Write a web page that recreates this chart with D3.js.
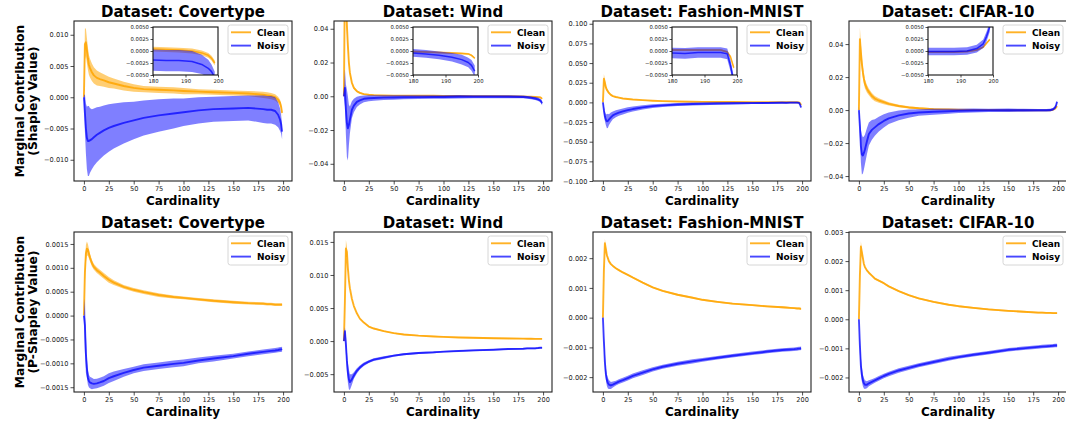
<!DOCTYPE html>
<html>
<head>
<meta charset="utf-8">
<script src="https://cdn.jsdelivr.net/npm/d3@7"></script>
<style>
  html, body { margin: 0; padding: 0; background: #fff; }
  svg { display: block; }
  text { font-family: "DejaVu Sans", sans-serif; }
</style>
</head>
<body>
<div id="chart"></div>
<script>
// ---------------- DATA ----------------
const cardinality = [0,1,2,3,4,5,6,8,10,13,16,20,25,30,40,50,60,75,90,100,115,130,150,165,180,184,188,192,195,197,198,199];

// Row 1: Shapley value
const covShapClean    = [0,0.0085,0.0088,0.0075,0.0062,0.0052,0.0047,0.004,0.0035,0.0031,0.0029,0.0027,0.0024,0.0022,0.0018,0.0015,0.0013,0.0012,0.0011,0.001,0.0009,0.0008,0.0007,0.0006,0.0004,0.0003,0.0002,0.0,-0.0004,-0.0009,-0.0015,-0.0025];
const covShapCleanErr = [0.0003,0.0025,0.0022,0.002,0.0018,0.0016,0.0015,0.0014,0.0013,0.0012,0.0011,0.001,0.0009,0.0008,0.0007,0.0006,0.0005,0.0005,0.0005,0.0005,0.0004,0.0004,0.0004,0.0004,0.0005,0.0005,0.0005,0.0005,0.0005,0.0005,0.0005,0.0005];
const covShapNoisy    = [0,-0.0025,-0.005,-0.0065,-0.007,-0.007,-0.0069,-0.0067,-0.0064,-0.006,-0.0057,-0.0053,-0.0049,-0.0046,-0.0041,-0.0037,-0.0033,-0.0029,-0.0026,-0.0024,-0.0021,-0.0019,-0.0018,-0.0017,-0.0019,-0.002,-0.002,-0.0022,-0.0028,-0.0036,-0.0043,-0.0055];
const covShapNoisyErr = [0.0003,0.003,0.004,0.005,0.0056,0.0056,0.0052,0.0048,0.0046,0.0044,0.0042,0.004,0.0038,0.0036,0.0033,0.003,0.0028,0.0026,0.0024,0.0022,0.0021,0.002,0.002,0.002,0.0022,0.0022,0.0022,0.0022,0.002,0.0018,0.0015,0.0012];

const windShapClean    = [0,0.07,0.06,0.042,0.03,0.02,0.014,0.008,0.005,0.003,0.002,0.0013,0.0009,0.0007,0.0005,0.0004,0.0004,0.0003,0.0003,0.0002,0.0002,0.0001,0.0001,0.0,-0.0001,-0.0002,-0.0003,-0.0004,-0.0005,-0.0006,-0.0009,-0.0015];
const windShapCleanErr = [0.001,0.01,0.008,0.005,0.003,0.002,0.0015,0.001,0.0008,0.0006,0.0005,0.0004,0.0003,0.0003,0.0003,0.0003,0.0003,0.0003,0.0003,0.0003,0.0003,0.0003,0.0003,0.0003,0.0002,0.0002,0.0002,0.0002,0.0002,0.0002,0.0002,0.0002];
const windShapNoisy    = [0,0.005,-0.008,-0.016,-0.019,-0.017,-0.014,-0.008,-0.0055,-0.0033,-0.0024,-0.0015,-0.0012,-0.001,-0.0008,-0.0007,-0.0006,-0.0005,-0.0004,-0.0004,-0.0003,-0.0003,-0.0003,-0.0003,-0.0004,-0.0006,-0.0009,-0.0013,-0.0018,-0.0024,-0.003,-0.0042];
const windShapNoisyErr = [0.001,0.011,0.015,0.02,0.019,0.012,0.008,0.005,0.004,0.003,0.0025,0.002,0.0018,0.0016,0.0014,0.0013,0.0012,0.0011,0.001,0.001,0.001,0.0009,0.0009,0.0009,0.0008,0.0008,0.0008,0.0009,0.001,0.001,0.0011,0.0012];

const fashShapClean    = [0,0.03,0.025,0.019,0.016,0.014,0.012,0.0095,0.008,0.0068,0.006,0.005,0.0043,0.0037,0.0028,0.0021,0.0016,0.0011,0.0008,0.0007,0.0005,0.0004,0.0003,0.0003,0.0002,0.0002,0.0002,0.0002,0.0002,-0.0002,-0.0012,-0.0035];
const fashShapCleanErr = [0.0005,0.006,0.004,0.003,0.002,0.0015,0.0012,0.001,0.0009,0.0008,0.0008,0.0007,0.0007,0.0006,0.0006,0.0006,0.0005,0.0005,0.0004,0.0004,0.0004,0.0003,0.0003,0.0003,0.0002,0.0002,0.0002,0.0002,0.0002,0.0002,0.0002,0.0003];
const fashShapNoisy    = [0,-0.01,-0.018,-0.022,-0.024,-0.0235,-0.022,-0.019,-0.0165,-0.0145,-0.013,-0.0115,-0.0098,-0.0085,-0.0064,-0.0048,-0.0038,-0.0027,-0.0021,-0.0018,-0.0015,-0.0012,-0.0009,-0.0007,-0.0004,-0.0005,-0.0003,-0.0003,-0.0003,-0.0006,-0.003,-0.0065];
const fashShapNoisyErr = [0.001,0.005,0.006,0.007,0.009,0.009,0.007,0.006,0.005,0.0045,0.004,0.0038,0.0035,0.0032,0.0028,0.0025,0.0022,0.002,0.0018,0.0017,0.0016,0.0015,0.0013,0.0012,0.0011,0.0011,0.0011,0.0011,0.0011,0.0011,0.0012,0.0012];

const cifarShapClean    = [0,0.043,0.035,0.028,0.023,0.019,0.016,0.013,0.011,0.0085,0.007,0.0058,0.0048,0.0038,0.0025,0.0016,0.0011,0.0006,0.0004,0.0002,0.0001,0.0,-0.0001,-0.0001,-0.0002,-0.0002,-0.0002,-0.0001,0.0002,0.0008,0.0016,0.0024];
const cifarShapCleanErr = [0.001,0.007,0.005,0.004,0.0035,0.003,0.0027,0.0024,0.002,0.0018,0.0016,0.0014,0.0012,0.001,0.0008,0.0007,0.0006,0.0005,0.0004,0.0004,0.0003,0.0003,0.0003,0.0003,0.0002,0.0002,0.0002,0.0002,0.0002,0.0002,0.0002,0.0002];
const cifarShapNoisy    = [0,-0.01,-0.022,-0.027,-0.0275,-0.026,-0.024,-0.019,-0.0145,-0.012,-0.0105,-0.0085,-0.0066,-0.005,-0.0032,-0.0021,-0.0015,-0.001,-0.0007,-0.0005,-0.0003,-0.0002,-0.0001,-0.0001,-0.0001,-0.0001,-0.0001,0.0,0.0005,0.0015,0.003,0.005];
const cifarShapNoisyErr = [0.002,0.006,0.01,0.012,0.011,0.01,0.009,0.008,0.007,0.006,0.005,0.0045,0.004,0.0035,0.003,0.0025,0.002,0.0018,0.0015,0.0013,0.0012,0.001,0.001,0.0009,0.0008,0.0008,0.0008,0.0008,0.0008,0.0009,0.001,0.001];

// Row 2: P-Shapley value
const covPShapClean    = [0,0.0009,0.0013,0.0014,0.00138,0.0013,0.00122,0.0011,0.00102,0.00095,0.0009,0.00083,0.00075,0.00069,0.0006,0.00054,0.00049,0.00043,0.00039,0.00037,0.00034,0.00031,0.00028,0.00026,0.00025,0.00024,0.00024,0.00023,0.00023,0.00023,0.00023,0.00023];
const covPShapCleanErr = [0.00003,0.0002,0.00018,0.00015,0.00012,0.0001,0.00008,0.00007,0.00006,0.00006,0.00006,0.00006,0.00006,0.00005,0.00004,0.00004,0.00004,0.00004,0.00003,0.00003,0.00003,0.00003,0.00003,0.00003,0.00003,0.00003,0.00003,0.00003,0.00003,0.00003,0.00003,0.00003];
const covPShapNoisy    = [0,-0.0002,-0.0008,-0.0011,-0.0013,-0.00137,-0.0014,-0.00142,-0.00143,-0.00142,-0.0014,-0.00137,-0.00131,-0.00127,-0.0012,-0.00114,-0.00109,-0.00105,-0.00101,-0.00099,-0.00094,-0.0009,-0.00085,-0.0008,-0.00076,-0.00075,-0.00074,-0.00073,-0.00072,-0.00071,-0.00071,-0.0007];
const covPShapNoisyErr = [0.00003,0.00055,0.0004,0.0002,0.00015,0.00013,0.00012,0.00012,0.0001,0.0001,0.0001,0.0001,0.0001,0.0001,0.00008,0.00007,0.00007,0.00007,0.00007,0.00007,0.00006,0.00006,0.00005,0.00005,0.00005,0.00005,0.00005,0.00005,0.00005,0.00005,0.00005,0.00005];

const windPShapClean    = [0,0.006,0.014,0.0135,0.011,0.0092,0.008,0.0064,0.0053,0.0042,0.0034,0.0028,0.0022,0.0019,0.0015,0.0012,0.001,0.00082,0.0007,0.00063,0.00055,0.0005,0.00043,0.0004,0.00037,0.00036,0.00035,0.00034,0.00034,0.00033,0.00033,0.00033];
const windPShapCleanErr = [0.0001,0.001,0.0013,0.0008,0.0004,0.0002,0.0001,0.0001,0.0001,0.0001,0.0001,0.0001,0.0001,0.0001,0.0001,0.0001,0.0001,0.0001,0.0001,0.0001,0.0001,0.0001,0.0001,0.0001,0.0001,0.0001,0.0001,0.0001,0.0001,0.0001,0.0001,0.0001];
const windPShapNoisy    = [0,0.0015,-0.0005,-0.003,-0.0048,-0.0058,-0.0062,-0.0058,-0.0052,-0.0045,-0.004,-0.0035,-0.0031,-0.0028,-0.0025,-0.0022,-0.002,-0.0018,-0.0017,-0.0016,-0.0015,-0.0014,-0.0013,-0.0012,-0.00115,-0.0011,-0.0011,-0.0011,-0.00105,-0.001,-0.001,-0.001];
const windPShapNoisyErr = [0.0002,0.0006,0.0015,0.0015,0.0015,0.0015,0.0012,0.0008,0.0005,0.0004,0.0003,0.00025,0.0002,0.0002,0.0002,0.00015,0.00015,0.00015,0.00015,0.00012,0.00012,0.00012,0.00012,0.00012,0.00012,0.00012,0.00012,0.00012,0.00012,0.00012,0.00012,0.00012];

const fashPShapClean    = [0,0.0016,0.0025,0.0023,0.0021,0.002,0.0019,0.0018,0.00174,0.00166,0.0016,0.00152,0.00144,0.00135,0.00118,0.00102,0.0009,0.00077,0.00067,0.0006,0.00053,0.00047,0.00042,0.00038,0.00035,0.00034,0.00033,0.00032,0.00031,0.00031,0.0003,0.0003];
const fashPShapCleanErr = [0.00002,0.0001,0.00015,0.0001,0.00006,0.00004,0.00003,0.00003,0.00003,0.00003,0.00003,0.00003,0.00003,0.00003,0.00003,0.00003,0.00003,0.00003,0.00003,0.00003,0.00003,0.00003,0.00003,0.00003,0.00003,0.00003,0.00003,0.00003,0.00003,0.00003,0.00003,0.00003];
const fashPShapNoisy    = [0,-0.0008,-0.0015,-0.0019,-0.0021,-0.0022,-0.00225,-0.00228,-0.00225,-0.0022,-0.00215,-0.0021,-0.00203,-0.00196,-0.00185,-0.00174,-0.00165,-0.00155,-0.00147,-0.00142,-0.00135,-0.00128,-0.0012,-0.00114,-0.00109,-0.00108,-0.00107,-0.00106,-0.00105,-0.00104,-0.00104,-0.00103];
const fashPShapNoisyErr = [0.00002,0.0002,0.0003,0.0002,0.0002,0.00018,0.00015,0.00012,0.0001,0.00008,0.00008,0.00008,0.00008,0.00008,0.00008,0.00007,0.00007,0.00007,0.00007,0.00006,0.00006,0.00006,0.00006,0.00006,0.00006,0.00006,0.00006,0.00006,0.00006,0.00006,0.00006,0.00006];

const cifarPShapClean    = [0,0.0015,0.0025,0.0023,0.0021,0.0019,0.0018,0.00168,0.0016,0.0015,0.0014,0.00133,0.00124,0.00113,0.00097,0.00083,0.00072,0.0006,0.0005,0.00045,0.00039,0.00034,0.00029,0.00026,0.00023,0.00023,0.00022,0.00022,0.00021,0.00021,0.00021,0.00021];
const cifarPShapCleanErr = [0.00002,0.0001,0.00018,0.0001,0.00006,0.00004,0.00003,0.00003,0.00003,0.00003,0.00003,0.00003,0.00003,0.00003,0.00003,0.00003,0.00003,0.00003,0.00003,0.00003,0.00003,0.00003,0.00003,0.00003,0.00003,0.00003,0.00003,0.00003,0.00003,0.00003,0.00003,0.00003];
const cifarPShapNoisy    = [0,-0.0009,-0.0016,-0.0019,-0.0021,-0.0022,-0.00225,-0.00225,-0.0022,-0.00215,-0.0021,-0.00203,-0.00195,-0.00188,-0.00176,-0.00167,-0.00158,-0.00147,-0.00136,-0.0013,-0.00122,-0.00115,-0.00105,-0.001,-0.00095,-0.00094,-0.00093,-0.00092,-0.00091,-0.0009,-0.0009,-0.0009];
const cifarPShapNoisyErr = [0.00002,0.0003,0.0003,0.00025,0.0002,0.00018,0.00015,0.00012,0.0001,0.00009,0.00008,0.00008,0.00008,0.00008,0.00008,0.00007,0.00007,0.00007,0.00007,0.00006,0.00006,0.00006,0.00006,0.00006,0.00006,0.00006,0.00006,0.00006,0.00006,0.00006,0.00006,0.00006];

const datasetNames = ["Covertype", "Wind", "Fashion-MNIST", "CIFAR-10"];
const seriesNames = ["Clean", "Noisy"];
const xTickValues = [0, 25, 50, 75, 100, 125, 150, 175, 200];
const insetXTickValues = [180, 190, 200];
const insetYTickValues = [-0.005, -0.0025, 0, 0.0025, 0.005];
const yTicksRow1 = [
  [-0.010, -0.005, 0, 0.005, 0.010],
  [-0.04, -0.02, 0, 0.02, 0.04],
  [-0.100, -0.075, -0.050, -0.025, 0, 0.025, 0.050, 0.075, 0.100],
  [-0.04, -0.02, 0, 0.02, 0.04]
];
const yTicksRow2 = [
  [-0.0015, -0.0010, -0.0005, 0, 0.0005, 0.0010, 0.0015],
  [-0.005, 0, 0.005, 0.010, 0.015],
  [-0.002, -0.001, 0, 0.001, 0.002],
  [-0.002, -0.001, 0, 0.001, 0.002, 0.003]
];
const yLabelRow1 = ["Marginal Contribution", "(Shapley Value)"];
const yLabelRow2 = ["Marginal Contribution", "(P-Shapley Value)"];

// ---------------- LAYOUT / STYLE ----------------
const W = 1066, H = 423;
const colLeft = [74, 334, 593, 849];
const rowTop = [21, 232];
const axW = 218, axH = 160;
const xDomain = [-9.95, 208.95];
const yDomainsRow1 = [[-0.0134, 0.0122], [-0.0502, 0.0446], [-0.1, 0.1035], [-0.043, 0.054]];
const yDomainsRow2 = [[-0.0016, 0.00175], [-0.0077, 0.0165], [-0.0025, 0.00288], [-0.0025, 0.003]];
const yFormatsRow1 = [".3f", ".2f", ".3f", ".2f"];
const yFormatsRow2 = [".4f", ".3f", ".3f", ".3f"];
const COL = {
  Clean: { line: "#ffa500", lineOp: 0.85, band: "#ffa500", bandOp: 0.55 },
  Noisy: { line: "#0000ff", lineOp: 0.72, band: "#0000ff", bandOp: 0.5 }
};
const FONT = '"DejaVu Sans", sans-serif';

const row1Data = [
  [covShapClean, covShapCleanErr, covShapNoisy, covShapNoisyErr],
  [windShapClean, windShapCleanErr, windShapNoisy, windShapNoisyErr],
  [fashShapClean, fashShapCleanErr, fashShapNoisy, fashShapNoisyErr],
  [cifarShapClean, cifarShapCleanErr, cifarShapNoisy, cifarShapNoisyErr]
];
const row2Data = [
  [covPShapClean, covPShapCleanErr, covPShapNoisy, covPShapNoisyErr],
  [windPShapClean, windPShapCleanErr, windPShapNoisy, windPShapNoisyErr],
  [fashPShapClean, fashPShapCleanErr, fashPShapNoisy, fashPShapNoisyErr],
  [cifarPShapClean, cifarPShapCleanErr, cifarPShapNoisy, cifarPShapNoisyErr]
];

function toSeries(mean, err) {
  return cardinality.map((c, i) => ({ x: c, y: mean[i], lo: mean[i] - err[i], hi: mean[i] + err[i] }));
}

const svg = d3.select("#chart").append("svg")
  .attr("width", W).attr("height", H)
  .attr("viewBox", `0 0 ${W} ${H}`);
svg.append("rect").attr("width", W).attr("height", H).attr("fill", "#fff");
const defs = svg.append("defs");
let clipId = 0;

function drawSeriesSet(g, x, y, sets, clipRef, lw) {
  const area = d3.area().x(d => x(d.x)).y0(d => y(d.lo)).y1(d => y(d.hi));
  const line = d3.line().x(d => x(d.x)).y(d => y(d.y));
  const layer = g.append("g").attr("clip-path", `url(#${clipRef})`);
  sets.forEach(s => {
    const c = COL[s.name];
    layer.append("path").datum(s.data).attr("d", area)
      .attr("fill", c.band).attr("fill-opacity", c.bandOp).attr("stroke", "none");
    layer.append("path").datum(s.data).attr("d", line)
      .attr("fill", "none").attr("stroke", c.line).attr("stroke-opacity", c.lineOp)
      .attr("stroke-width", lw).attr("stroke-linejoin", "round");
  });
}

function styleAxis(ax, fontSize) {
  ax.select(".domain").remove();
  ax.selectAll(".tick line").attr("stroke", "#222").attr("stroke-width", 0.8);
  ax.selectAll(".tick text").attr("fill", "#222").style("font-size", fontSize + "px").style("font-family", FONT);
}

function drawPanel(row, col) {
  const L = colLeft[col], T = rowTop[row];
  const dataset = row === 0 ? row1Data[col] : row2Data[col];
  const yDom = row === 0 ? yDomainsRow1[col] : yDomainsRow2[col];
  const yTicks = row === 0 ? yTicksRow1[col] : yTicksRow2[col];
  const yFmt = row === 0 ? yFormatsRow1[col] : yFormatsRow2[col];

  const x = d3.scaleLinear().domain(xDomain).range([L, L + axW]);
  const y = d3.scaleLinear().domain(yDom).range([T + axH, T]);
  const g = svg.append("g");

  const cid = "clip" + (clipId++);
  defs.append("clipPath").attr("id", cid).append("rect")
    .attr("x", L).attr("y", T).attr("width", axW).attr("height", axH);

  const sets = [
    { name: "Clean", data: toSeries(dataset[0], dataset[1]) },
    { name: "Noisy", data: toSeries(dataset[2], dataset[3]) }
  ];
  drawSeriesSet(g, x, y, sets, cid, 1.9);

  // axes
  const xa = g.append("g").attr("transform", `translate(0,${T + axH})`)
    .call(d3.axisBottom(x).tickValues(xTickValues).tickSize(3.5).tickPadding(2).tickFormat(d3.format("d")));
  styleAxis(xa, 6.6);
  const ya = g.append("g").attr("transform", `translate(${L},0)`)
    .call(d3.axisLeft(y).tickValues(yTicks).tickSize(3.5).tickPadding(2).tickFormat(d3.format(yFmt)));
  styleAxis(ya, 6.6);

  // frame
  g.append("rect").attr("x", L).attr("y", T).attr("width", axW).attr("height", axH)
    .attr("fill", "none").attr("stroke", "#222").attr("stroke-width", 1.1);

  // title
  g.append("text").attr("x", L + axW / 2).attr("y", T - 4)
    .attr("text-anchor", "middle").style("font-size", "15px").style("font-weight", "bold")
    .attr("fill", "#000").text("Dataset: " + datasetNames[col]);
  // x label
  g.append("text").attr("x", L + axW / 2).attr("y", T + axH + 24)
    .attr("text-anchor", "middle").style("font-size", "12px").style("font-weight", "bold")
    .attr("fill", "#000").text("Cardinality");

  // y label
  if (col === 0) {
    const lab = row === 0 ? yLabelRow1 : yLabelRow2;
    const cy = T + axH / 2;
    [23.5, 37].forEach((bx, i) => {
      g.append("text").attr("transform", `translate(${bx},${cy}) rotate(-90)`)
        .attr("text-anchor", "middle").style("font-size", "12.3px").style("font-weight", "bold")
        .attr("fill", "#000").text(lab[i]);
    });
  }

  // inset (row 1 only)
  if (row === 0) {
    const IL = L + 79, IT = 27, IW = 65, IH = 48;
    const ix = d3.scaleLinear().domain([180, 200]).range([IL, IL + IW]);
    const iy = d3.scaleLinear().domain([-0.005, 0.005]).range([IT + IH, IT]);
    const ig = g.append("g");
    ig.append("rect").attr("x", IL).attr("y", IT).attr("width", IW).attr("height", IH).attr("fill", "#fff");
    const icid = "clip" + (clipId++);
    defs.append("clipPath").attr("id", icid).append("rect")
      .attr("x", IL).attr("y", IT).attr("width", IW).attr("height", IH);
    drawSeriesSet(ig, ix, iy, sets, icid, 1.5);
    const ixa = ig.append("g").attr("transform", `translate(0,${IT + IH})`)
      .call(d3.axisBottom(ix).tickValues(insetXTickValues).tickSize(2.5).tickPadding(1.5).tickFormat(d3.format("d")));
    styleAxis(ixa, 5.3);
    const iya = ig.append("g").attr("transform", `translate(${IL},0)`)
      .call(d3.axisLeft(iy).tickValues(insetYTickValues).tickSize(2.5).tickPadding(1.5).tickFormat(d3.format(".4f")));
    styleAxis(iya, 5.3);
    ig.append("rect").attr("x", IL).attr("y", IT).attr("width", IW).attr("height", IH)
      .attr("fill", "none").attr("stroke", "#111").attr("stroke-width", 1.1);
  }

  // legend
  const bx = L + axW - 64, by = T + 4, bw = 60, bh = 29;
  const lg = g.append("g");
  lg.append("rect").attr("x", bx).attr("y", by).attr("width", bw).attr("height", bh)
    .attr("rx", 2.5).attr("fill", "#fff").attr("fill-opacity", 0.85)
    .attr("stroke", "#cccccc").attr("stroke-width", 0.8);
  seriesNames.forEach((nm, i) => {
    const ly = by + 7.3 + i * 13.3;
    lg.append("line").attr("x1", bx + 3).attr("x2", bx + 23).attr("y1", ly).attr("y2", ly)
      .attr("stroke", COL[nm].line).attr("stroke-opacity", COL[nm].lineOp).attr("stroke-width", 1.9);
    lg.append("text").attr("x", bx + 29).attr("y", ly + 3.3)
      .style("font-size", "9px").style("font-weight", "bold").attr("fill", "#000").text(nm);
  });
}

for (let r = 0; r < 2; r++) for (let c = 0; c < 4; c++) drawPanel(r, c);
</script>
</body>
</html>
